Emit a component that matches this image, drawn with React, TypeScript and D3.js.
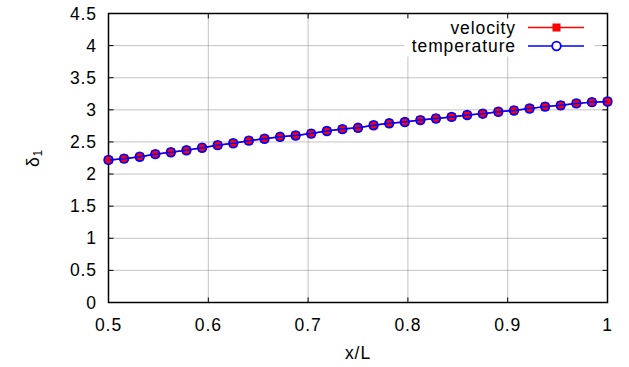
import { useEffect, useRef } from 'react';
import * as d3 from 'd3';

// ─── Data ───────────────────────────────────────────────────

const xPos = [
  0.5, 0.5156, 0.5313, 0.5469, 0.5625, 0.5781, 0.5938, 0.6094, 0.625, 0.6406, 0.6563,
  0.6719, 0.6875, 0.7031, 0.7188, 0.7344, 0.75, 0.7656, 0.7813, 0.7969, 0.8125, 0.8281,
  0.8438, 0.8594, 0.875, 0.8906, 0.9063, 0.9219, 0.9375, 0.9531, 0.9688, 0.9844, 1.0,
];
const velocity = [
  2.22, 2.24, 2.27, 2.31, 2.34, 2.37, 2.41, 2.45, 2.48, 2.52, 2.55,
  2.58, 2.6, 2.63, 2.67, 2.7, 2.72, 2.76, 2.79, 2.81, 2.84, 2.865,
  2.89, 2.92, 2.94, 2.97, 2.99, 3.02, 3.05, 3.07, 3.1, 3.12, 3.13,
];
const temperature = [
  2.22, 2.24, 2.27, 2.31, 2.34, 2.37, 2.41, 2.45, 2.48, 2.52, 2.55,
  2.58, 2.6, 2.63, 2.67, 2.7, 2.72, 2.76, 2.79, 2.81, 2.84, 2.865,
  2.89, 2.92, 2.94, 2.97, 2.99, 3.02, 3.05, 3.07, 3.1, 3.12, 3.13,
];
const xTicks = [0.5, 0.6, 0.7, 0.8, 0.9, 1];
const yTicks = [0, 0.5, 1, 1.5, 2, 2.5, 3, 3.5, 4, 4.5];

const W = 629;
const H = 367;
const FONT = '"Liberation Sans", Arial, sans-serif';
const FS = 17.5;
const LS = 0.9;

export default function App() {
  const svgRef = useRef<SVGSVGElement>(null);

  useEffect(() => {
    if (!svgRef.current) return;
    const svg = d3.select(svgRef.current);
    svg.selectAll('*').remove();

    const margin = { top: 13.5, right: 21.5, bottom: 64.5, left: 108.5 };
    const iw = W - margin.left - margin.right;
    const ih = H - margin.top - margin.bottom;

    const x = d3.scaleLinear().domain([0.5, 1]).range([0, iw]);
    const y = d3.scaleLinear().domain([0, 4.5]).range([ih, 0]);

    const g = svg.append('g').attr('transform', `translate(${margin.left},${margin.top})`);

    const txt = (sel: d3.Selection<SVGTextElement, unknown, null, undefined>) =>
      sel.attr('font-family', FONT).attr('font-size', FS).attr('letter-spacing', LS).attr('fill', '#000');

    // Grid
    g.append('g').selectAll('line')
      .data(yTicks.slice(1, -1))
      .join('line')
      .attr('x1', 0).attr('x2', iw)
      .attr('y1', (d) => y(d)).attr('y2', (d) => y(d))
      .attr('stroke', '#888')
      .attr('stroke-width', 1)
      .attr('stroke-dasharray', '1 1');
    g.append('g').selectAll('line')
      .data(xTicks.slice(1, -1))
      .join('line')
      .attr('x1', (d) => x(d)).attr('x2', (d) => x(d))
      .attr('y1', 0).attr('y2', ih)
      .attr('stroke', '#888')
      .attr('stroke-width', 1)
      .attr('stroke-dasharray', '1 1');

    // Legend background (covers grid)
    g.append('rect')
      .attr('x', 296).attr('y', 1)
      .attr('width', iw - 296 - 13).attr('height', 42)
      .attr('fill', '#fff');

    // Frame
    g.append('rect')
      .attr('x', 0).attr('y', 0)
      .attr('width', iw).attr('height', ih)
      .attr('fill', 'none')
      .attr('stroke', '#000')
      .attr('stroke-width', 1.5);

    // Inward ticks + labels
    const tl = 5;
    yTicks.forEach((t) => {
      g.append('line').attr('x1', 0).attr('x2', tl).attr('y1', y(t)).attr('y2', y(t)).attr('stroke', '#000');
      g.append('line').attr('x1', iw).attr('x2', iw - tl).attr('y1', y(t)).attr('y2', y(t)).attr('stroke', '#000');
      g.append('text')
        .attr('x', -11.5).attr('y', y(t))
        .attr('text-anchor', 'end')
        .attr('dominant-baseline', 'central')
        .call(txt)
        .text(String(t));
    });
    xTicks.forEach((t) => {
      g.append('line').attr('x1', x(t)).attr('x2', x(t)).attr('y1', ih).attr('y2', ih - tl).attr('stroke', '#000');
      g.append('line').attr('x1', x(t)).attr('x2', x(t)).attr('y1', 0).attr('y2', tl).attr('stroke', '#000');
      g.append('text')
        .attr('x', x(t)).attr('y', ih + 22)
        .attr('text-anchor', 'middle')
        .attr('dominant-baseline', 'central')
        .call(txt)
        .text(String(t));
    });

    // Axis labels
    svg.append('text')
      .attr('x', margin.left + iw / 2).attr('y', 353)
      .attr('text-anchor', 'middle')
      .attr('dominant-baseline', 'central')
      .call(txt)
      .text('x/L');
    const yl = svg.append('text')
      .attr('transform', `translate(33,${margin.top + ih / 2}) rotate(-90)`)
      .attr('text-anchor', 'middle')
      .attr('dominant-baseline', 'central')
      .call(txt);
    yl.append('tspan').text('δ');
    yl.append('tspan').attr('font-size', 12).attr('dy', 5).text('1');

    // Series
    const vel = xPos.map((xv, i) => ({ x: xv, y: velocity[i] }));
    const tmp = xPos.map((xv, i) => ({ x: xv, y: temperature[i] }));
    const line = d3.line<{ x: number; y: number }>().x((d) => x(d.x)).y((d) => y(d.y));

    g.append('path').datum(vel)
      .attr('fill', 'none').attr('stroke', '#ff0000').attr('stroke-width', 1.5).attr('d', line);
    g.append('g').selectAll('rect').data(vel).join('rect')
      .attr('x', (d) => x(d.x) - 4).attr('y', (d) => y(d.y) - 4)
      .attr('width', 8).attr('height', 8)
      .attr('fill', '#ff0000');

    g.append('path').datum(tmp)
      .attr('fill', 'none').attr('stroke', '#0000ff').attr('stroke-width', 1.5).attr('d', line);
    g.append('g').selectAll('circle').data(tmp).join('circle')
      .attr('cx', (d) => x(d.x)).attr('cy', (d) => y(d.y))
      .attr('r', 4.3)
      .attr('fill', 'none')
      .attr('stroke', '#0000ff').attr('stroke-width', 1.8);

    // Legend
    const legend = svg.append('g');
    const lx1 = 528, lx2 = 584, lm = 556.5;
    const rows = [
      { label: 'velocity', color: '#ff0000', yy: 27.5, marker: 'square' },
      { label: 'temperature', color: '#0000ff', yy: 46, marker: 'circle' },
    ];
    rows.forEach((r) => {
      legend.append('text')
        .attr('x', 516).attr('y', r.yy)
        .attr('text-anchor', 'end')
        .attr('dominant-baseline', 'central')
        .call(txt)
        .text(r.label);
      legend.append('line')
        .attr('x1', lx1).attr('x2', lx2).attr('y1', r.yy).attr('y2', r.yy)
        .attr('stroke', r.color).attr('stroke-width', 1.5);
      if (r.marker === 'square') {
        legend.append('rect')
          .attr('x', lm - 4).attr('y', r.yy - 4).attr('width', 8).attr('height', 8)
          .attr('fill', r.color);
      } else {
        legend.append('circle')
          .attr('cx', lm).attr('cy', r.yy).attr('r', 4.3)
          .attr('fill', '#fff').attr('stroke', r.color).attr('stroke-width', 1.8);
      }
    });
  }, []);

  return (
    <svg
      ref={svgRef}
      width={W}
      height={H}
      style={{ position: 'absolute', left: 0, top: 0, background: '#fff' }}
    />
  );
}
